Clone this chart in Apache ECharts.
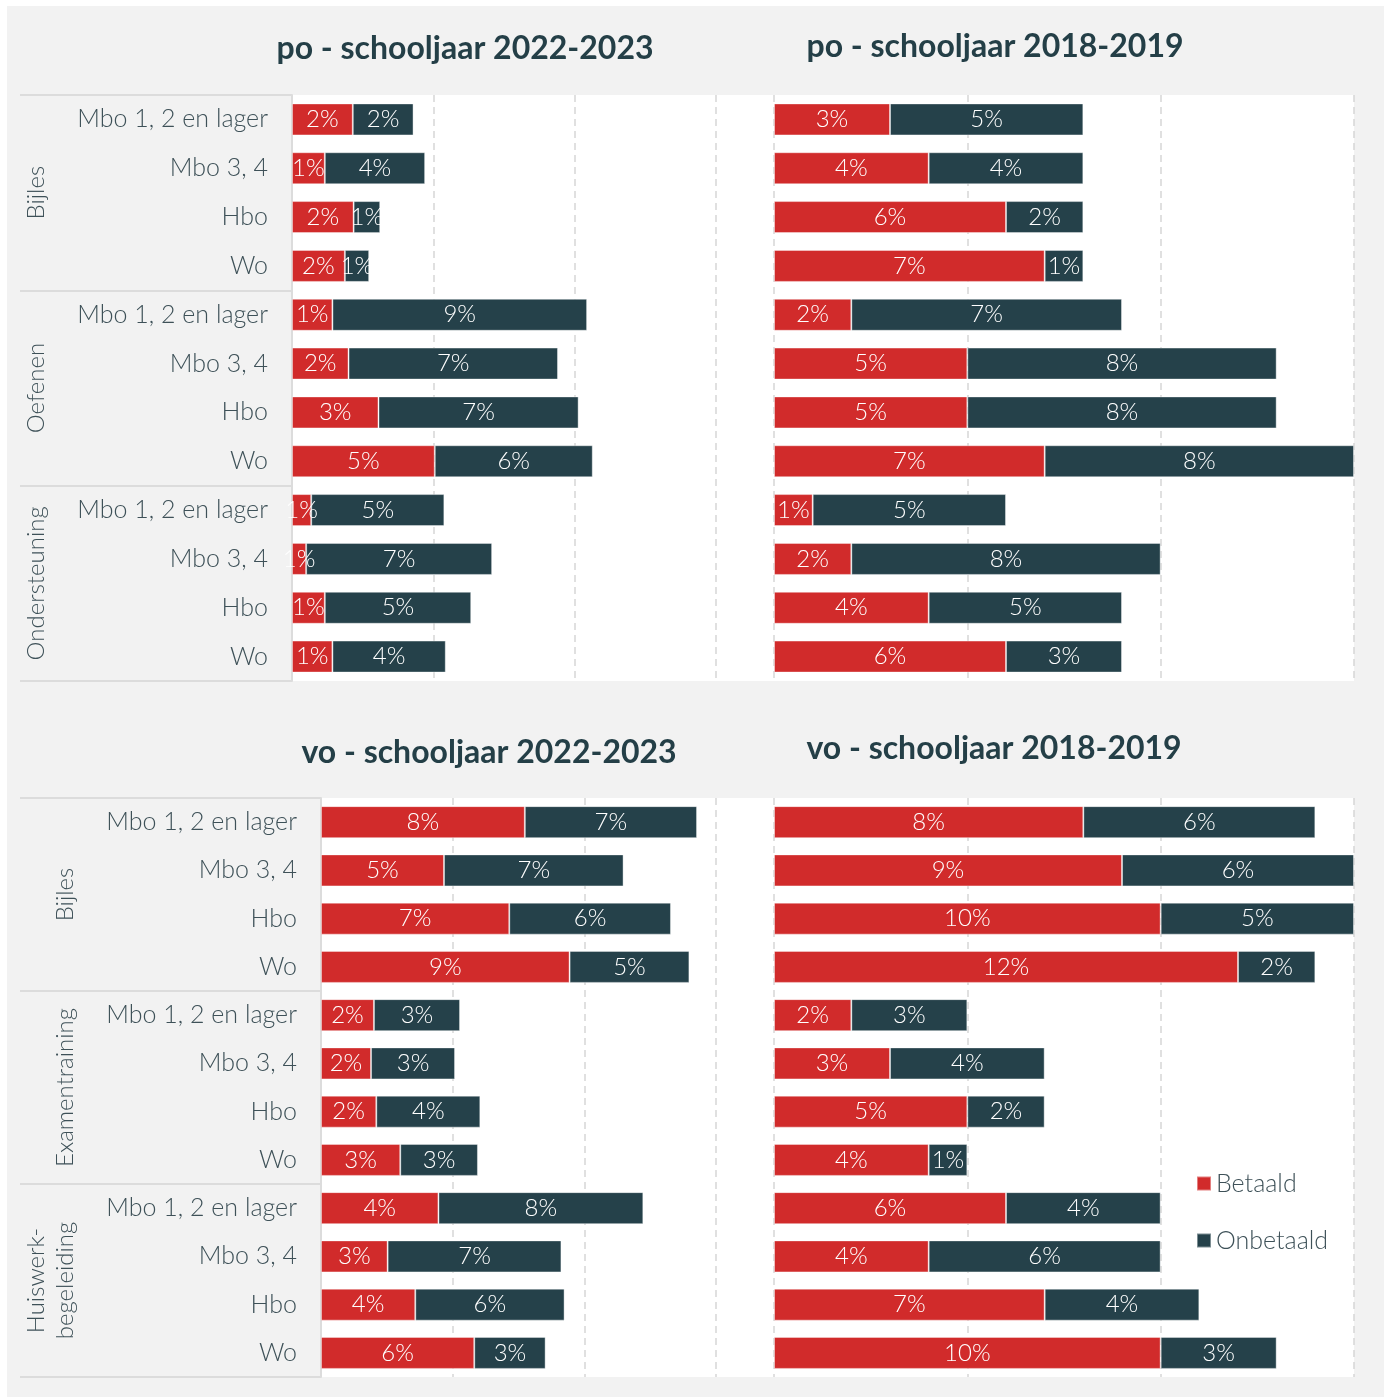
<!DOCTYPE html>
<html><head><meta charset="utf-8">
<script src="https://cdn.jsdelivr.net/npm/echarts@6/dist/echarts.min.js"></script>
<style>
html,body{margin:0;padding:0;background:#fff;}
#wrap{position:relative;width:1389px;height:1397px;}
#bg{position:absolute;left:7px;top:6px;width:1377px;height:1391px;background:#f2f2f2;}
#chart{position:absolute;left:0;top:0;width:1389px;height:1397px;}
</style></head><body>
<div id="wrap"><div id="bg"></div><div id="chart"></div></div>
<script>
// ---- data ----
const levels = ['Mbo 1, 2 en lager', 'Mbo 3, 4', 'Hbo', 'Wo'];
const groupsPo = ['Bijles', 'Oefenen', 'Ondersteuning'];
const groupsVo = ['Bijles', 'Examentraining', 'Huiswerk-\nbegeleiding'];
const titles = ['po - schooljaar 2022-2023', 'po - schooljaar 2018-2019', 'vo - schooljaar 2022-2023', 'vo - schooljaar 2018-2019'];
const seriesNames = ['Betaald', 'Onbetaald'];

const po2223Betaald   = [2.15, 1.16, 2.18, 1.87, 1.43, 2.00, 3.06, 5.05, 0.68, 0.50, 1.16, 1.43];
const po2223Onbetaald = [2.15, 3.55, 0.94, 0.86, 9.01, 7.41, 7.08, 5.59, 4.71, 6.58, 5.18, 4.01];
const po1819Betaald   = [3, 4, 6, 7, 2, 5, 5, 7, 1, 2, 4, 6];
const po1819Onbetaald = [5, 4, 2, 1, 7, 8, 8, 8, 5, 8, 5, 3];
const vo2223Betaald   = [7.74, 4.67, 7.15, 9.44, 2.01, 1.90, 2.10, 3.01, 4.46, 2.53, 3.58, 5.82];
const vo2223Onbetaald = [6.54, 6.82, 6.14, 4.55, 3.27, 3.19, 3.95, 2.95, 7.78, 6.60, 5.67, 2.71];
const vo1819Betaald   = [8, 9, 10, 12, 2, 3, 5, 4, 6, 4, 7, 10];
const vo1819Onbetaald = [6, 6, 5, 2, 3, 4, 2, 1, 4, 6, 4, 3];

const axisMin = 0, axisMax = 15, axisInterval = 5;

// ---- styling / layout ----
const FONT = 'Lato, "Noto Sans", sans-serif';
const RED = '#d12b2b', DARK = '#25414a', TXT = '#3e5158', TITLE = '#243f47';
const SEP = '#dcdcdc';
const grids = [
  {left: 292, top: 95, width: 424, height: 586},
  {left: 774, top: 95, width: 580, height: 586},
  {left: 321, top: 798, width: 395, height: 579},
  {left: 774, top: 798, width: 580, height: 579}
];
const titlePos = [[465, 33], [995, 31], [489, 737], [994, 733]];

const cats = [];
for (let g = 0; g < 3; g++) for (const l of levels) cats.push(l);

const panelData = [
  [po2223Betaald, po2223Onbetaald],
  [po1819Betaald, po1819Onbetaald],
  [vo2223Betaald, vo2223Onbetaald],
  [vo1819Betaald, vo1819Onbetaald]
];

const xAxis = grids.map((g, i) => ({
  type: 'value', gridIndex: i, min: axisMin, max: axisMax, interval: axisInterval,
  axisLabel: {show: false}, axisLine: {show: false}, axisTick: {show: false},
  splitLine: {show: true, lineStyle: {color: '#d6d6d6', width: 1.5, type: [7, 5]}}
}));

function catAxis(gi, showLabels) {
  return {
    type: 'category', gridIndex: gi, inverse: true, data: cats, position: 'left',
    axisLine: {show: showLabels, lineStyle: {color: SEP, width: 2}},
    axisTick: {show: false},
    axisLabel: {show: showLabels, interval: 0, fontSize: 25, fontWeight: 300, color: TXT, fontFamily: FONT,
      margin: 24, padding: [4, 0, 0, 0]}
  };
}
function groupAxis(gi, groups, offset, margin) {
  return {
    type: 'category', gridIndex: gi, inverse: true, data: groups, position: 'left', offset: offset,
    axisLine: {show: false},
    axisTick: {show: true, interval: 0, inside: true, length: offset, lineStyle: {color: SEP, width: 2}},
    axisLabel: {show: true, interval: 0, inside: true, rotate: 90, margin: margin, fontSize: 24, fontWeight: 300,
      color: TXT, fontFamily: FONT, align: 'center', verticalAlign: 'bottom', lineHeight: 29}
  };
}
const yAxis = [
  catAxis(0, true),
  groupAxis(0, groupsPo, 272, 31),
  catAxis(1, false),
  catAxis(2, true),
  groupAxis(2, groupsVo, 301, 60),
  catAxis(3, false)
];
const catAxisIndex = [0, 2, 3, 5];

const series = [];
panelData.forEach((pair, i) => {
  pair.forEach((vals, k) => {
    series.push({
      name: seriesNames[k], type: 'bar', stack: 'p' + i,
      xAxisIndex: i, yAxisIndex: catAxisIndex[i],
      barWidth: 32, data: vals,
      itemStyle: {color: k === 0 ? RED : DARK, borderColor: 'rgba(255,255,255,0.4)', borderWidth: 1},
      label: {show: true, position: 'inside', color: '#fff', fontSize: 24, fontWeight: 300, fontFamily: FONT,
        padding: [2, 0, 0, 0], formatter: p => Math.round(p.value) + '%'},
      emphasis: {disabled: true}
    });
  });
});

const white = [
  {type: 'rect', z: -10, shape: {x: grids[0].left, y: grids[0].top, width: grids[1].left + grids[1].width - grids[0].left, height: grids[0].height}, style: {fill: '#fff'}},
  {type: 'rect', z: -10, shape: {x: grids[2].left, y: grids[2].top, width: grids[3].left + grids[3].width - grids[2].left, height: grids[2].height}, style: {fill: '#fff'}}
];

const chart = echarts.init(document.getElementById('chart'));
chart.setOption({
  backgroundColor: 'transparent',
  animation: false,
  textStyle: {fontFamily: FONT},
  title: titles.map((t, i) => ({
    text: t, left: titlePos[i][0], top: titlePos[i][1], textAlign: 'center', padding: 0,
    textStyle: {fontFamily: FONT, fontWeight: 'bold', fontSize: 32, color: TITLE}
  })),
  legend: {
    data: seriesNames, orient: 'vertical', left: 1196, top: 1171, itemWidth: 14, itemHeight: 14,
    itemGap: 32, icon: 'rect', padding: 0, selectedMode: false,
    textStyle: {fontSize: 25, fontWeight: 300, color: TXT, fontFamily: FONT}
  },
  grid: grids.map(g => Object.assign({containLabel: false, show: false}, g)),
  xAxis: xAxis,
  yAxis: yAxis,
  series: series,
  graphic: white
});
</script>
</body></html>
